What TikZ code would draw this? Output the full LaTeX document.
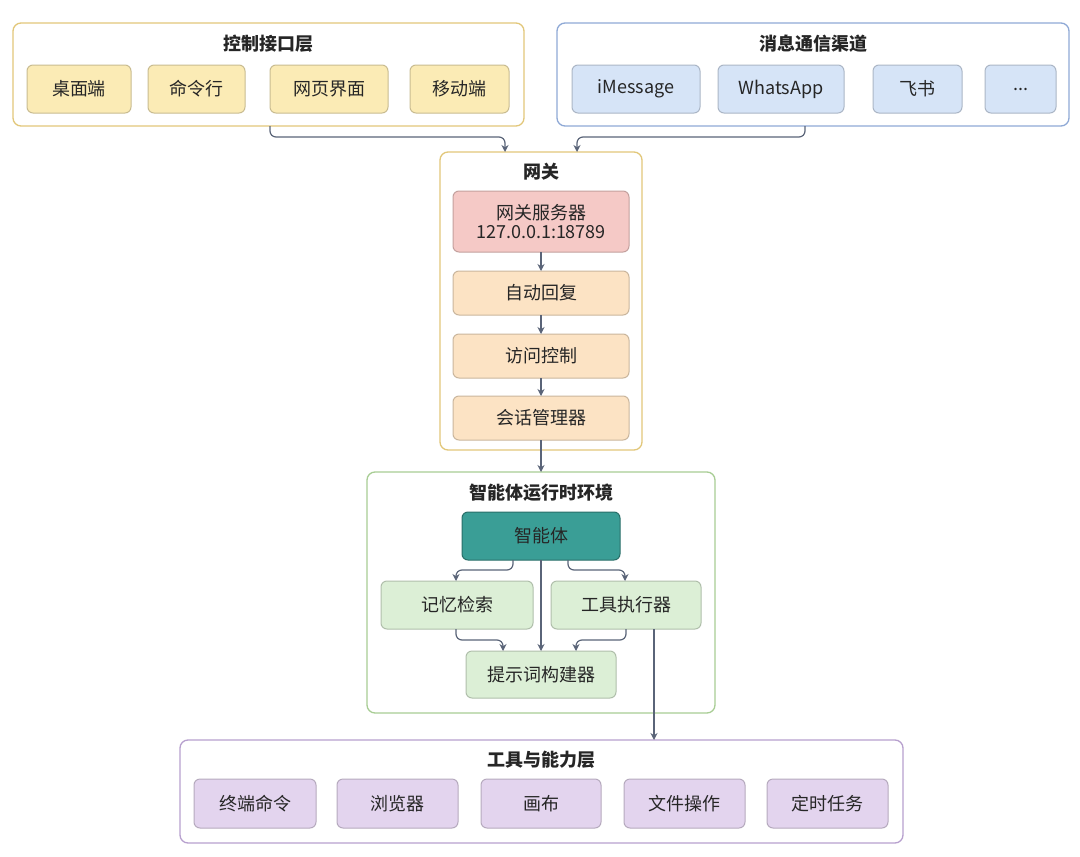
\documentclass[tikz,border=0pt]{standalone}
\usepackage{fontspec}
\setmainfont{Noto Sans CJK SC}
\usetikzlibrary{arrows.meta}
\definecolor{ar}{HTML}{5A6478}
\begin{document}
\begin{tikzpicture}[x=1pt,y=-1pt,
 grp/.style={rounded corners=8pt,line width=1.3pt,fill=white},
 box/.style={rounded corners=6pt,line width=1pt},
 yb/.style={box,draw=#1!80!black,fill=#1},
 tx/.style={font=\fontsize{18}{22}\selectfont,text=black!85},
 tt/.style={font=\fontsize{18}{22}\selectfont\bfseries,text=black!85},
 arr/.style={draw=ar,line width=1.2pt,-{Stealth[length=7pt,width=7pt]},rounded corners=6pt}]
\definecolor{cy}{HTML}{FBEBB5}\definecolor{cb}{HTML}{D6E4F7}\definecolor{cr}{HTML}{F5C9C6}
\definecolor{co}{HTML}{FCE3C4}\definecolor{ct}{HTML}{3A9E96}\definecolor{cg}{HTML}{DCEFD6}
\definecolor{cp}{HTML}{E3D4EE}
\definecolor{gy}{HTML}{E2C77A}\definecolor{gb}{HTML}{8FA9D6}\definecolor{gg}{HTML}{A8CD94}\definecolor{gp}{HTML}{B7A0CE}
\fill[white] (0,0) rectangle (1080,857);
% groups
\draw[grp,draw=gy] (13,23) rectangle (524,126);
\node[tt] (t1) at (268.5,44) {控制接口层};
\draw[grp,draw=gb] (557,23) rectangle (1069,126);
\node[tt] (t2) at (813,44) {消息通信渠道};
\draw[grp,draw=gy] (440,152) rectangle (642,450);
\node[tt] (t3) at (541,172) {网关};
\draw[grp,draw=gg] (367,472) rectangle (715,713);
\node[tt] (t4) at (541,493) {智能体运行时环境};
\draw[grp,draw=gp] (180,740) rectangle (903,843);
\node[tt] (t5) at (541.5,760) {工具与能力层};
% control
\foreach \a/\b/\t/\n in {27/131/桌面端/c1,148/245/命令行/c2,270/388/网页界面/c3,410/509/移动端/c4}{
 \draw[yb=cy] (\a,65) rectangle (\b,113); \node[tx] (\n) at ({(\a+\b)/2},89) {\t};}
\foreach \a/\b/\t/\n in {572/700/iMessage/m1,718/844/WhatsApp/m2,873/962/飞书/m3,985/1056/{...}/m4}{
 \draw[yb=cb] (\a,65) rectangle (\b,113); \node[tx] (\n) at ({(\a+\b)/2},89) {\t};}
% gateway
\draw[yb=cr] (453,191) rectangle (629,252);
\node[tx,align=center] (srv) at (541,221.5) {网关服务器\\[-3pt]127.0.0.1:18789};
\foreach \a/\b/\t/\n in {271/315/自动回复/g1,334/378/访问控制/g2,396/440/会话管理器/g3}{
 \draw[yb=co] (453,\a) rectangle (629,\b); \node[tx] (\n) at (541,{(\a+\b)/2}) {\t};}
% runtime
\draw[box,draw=ct!70!black,fill=ct] (462,512) rectangle (620,560);
\node[tx,text=black!85] (ag) at (541,536) {智能体};
\draw[yb=cg] (381,581) rectangle (533,629); \node[tx] (mem) at (457,605) {记忆检索};
\draw[yb=cg] (551,581) rectangle (701,629); \node[tx] (tex) at (626,605) {工具执行器};
\draw[yb=cg] (466,651) rectangle (616,698); \node[tx] (pb) at (541,674.5) {提示词构建器};
% tools
\foreach \a/\b/\t/\n in {194/316/终端命令/p1,337/458/浏览器/p2,481/601/画布/p3,624/745/文件操作/p4,767/888/定时任务/p5}{
 \draw[yb=cp] (\a,779) rectangle (\b,828); \node[tx] (\n) at ({(\a+\b)/2},803.5) {\t};}
% coordinates
\coordinate (cgb) at (270,126); \coordinate (mgb) at (805,126);
\coordinate (gt1) at (505,152); \coordinate (gt2) at (577,152);
\coordinate (rt) at (541,472); \coordinate (tt) at (654,740);
% arrows
\draw[arr] (cgb) |- (400,137) -| (gt1);
\draw[arr] (mgb) |- (700,137) -| (gt2);
\draw[arr] (541,252) -- (541,271);
\draw[arr] (541,315) -- (541,334);
\draw[arr] (541,378) -- (541,396);
\draw[arr] (541,440) -- (rt);
\draw[arr] (513,560) |- (480,570) -| (456,581);
\draw[arr] (568,560) |- (600,570) -| (625,581);
\draw[arr] (541,560) -- (541,651);
\draw[arr] (456,629) |- (480,640) -| (503,651);
\draw[arr] (626,629) |- (600,640) -| (576,651);
\draw[arr] (654,629) -- (tt);
\end{tikzpicture}
\end{document}
